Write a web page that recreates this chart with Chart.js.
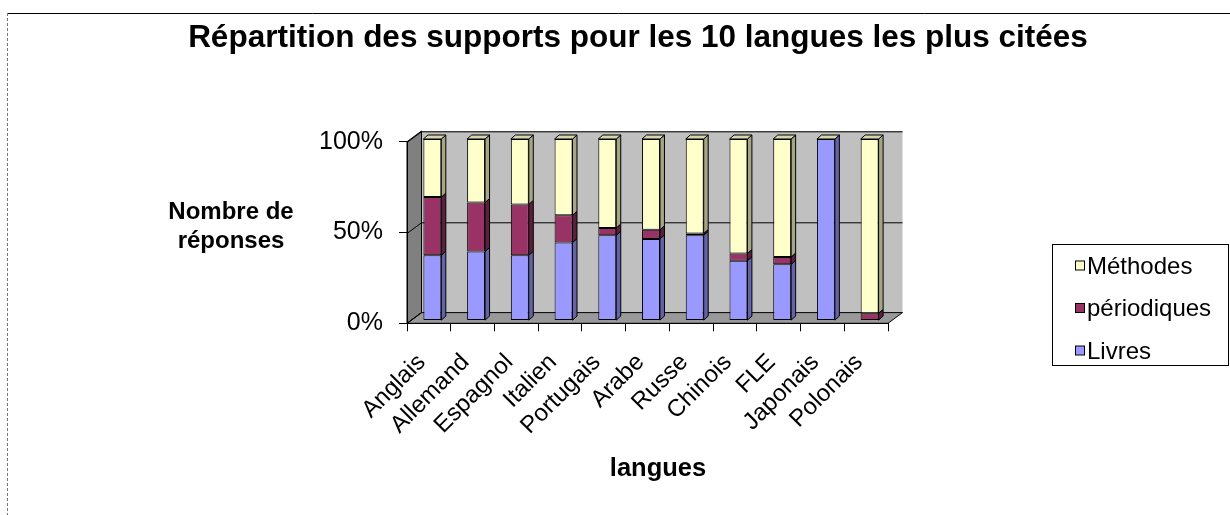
<!DOCTYPE html>
<html>
<head>
<meta charset="utf-8">
<script src="https://cdn.jsdelivr.net/npm/chart.js@4.4.1/dist/chart.umd.min.js"></script>
<style>
  html, body { margin: 0; padding: 0; background: #ffffff; }
  #wrap { width: 1230px; height: 515px; position: relative; }
</style>
</head>
<body>
<div id="wrap"><canvas id="c" width="1230" height="515"></canvas></div>
<script>
// ---- Data ----
const categories = ['Anglais', 'Allemand', 'Espagnol', 'Italien', 'Portugais', 'Arabe', 'Russe', 'Chinois', 'FLE', 'Japonais', 'Polonais'];
const livres      = [36, 38, 36, 43, 47, 45, 47, 33, 31, 100, 0];
const periodiques = [32, 27, 28, 15, 4, 5, 1, 4, 4, 0, 4];
const methodes    = [32, 35, 36, 42, 49, 50, 52, 63, 65, 0, 96];
const yTicks = [0, 50, 100];
const titleText = 'Répartition des supports pour les 10 langues les plus citées';
const yTitleLines = ['Nombre de', 'réponses'];
const xTitleText = 'langues';

const FONT = '"Liberation Sans", Arial, sans-serif';
// 3D depth of the walls and of the bars
const WDX = 14.5, WDY = -10.7;
const BAR_SHIFT_X = 3.5, BAR_SHIFT_Y = -2.7;
const BDX = 4.5, BDY = -4;

const faceColors = {
  Livres:      { front: '#9999ff', side: '#6363a8' },
  'périodiques': { front: '#993366', side: '#5c1f3d' },
  'Méthodes':  { front: '#ffffcc', side: '#a6a685', top: '#d6d6ad' }
};

const wallsPlugin = {
  id: 'walls',
  beforeDraw(chart) {
    const ctx = chart.ctx;
    const a = chart.chartArea;
    const ys = chart.scales.y;
    const L = a.left, R = a.right, T = a.top, B = a.bottom;
    ctx.save();
    // outer frame
    ctx.strokeStyle = '#000';
    ctx.lineWidth = 1;
    ctx.beginPath(); ctx.moveTo(7, 13.5); ctx.lineTo(1230, 13.5); ctx.stroke();
    ctx.strokeStyle = '#777';
    ctx.setLineDash([3, 2]);
    ctx.beginPath(); ctx.moveTo(7.5, 13); ctx.lineTo(7.5, 515); ctx.stroke();
    ctx.setLineDash([]);
    // back wall
    ctx.fillStyle = '#c0c0c0';
    ctx.fillRect(L + WDX, T + WDY, R - L, B - T);
    // left wall
    ctx.fillStyle = '#808080';
    ctx.beginPath();
    ctx.moveTo(L, T); ctx.lineTo(L + WDX, T + WDY); ctx.lineTo(L + WDX, B + WDY); ctx.lineTo(L, B); ctx.closePath();
    ctx.fill();
    ctx.strokeStyle = '#000'; ctx.stroke();
    // floor
    ctx.fillStyle = '#999999';
    ctx.beginPath();
    ctx.moveTo(L, B); ctx.lineTo(L + WDX, B + WDY); ctx.lineTo(R + WDX, B + WDY); ctx.lineTo(R, B); ctx.closePath();
    ctx.fill();
    ctx.strokeStyle = '#000'; ctx.stroke();
    // gridlines on back wall and left wall
    ctx.strokeStyle = '#000';
    yTicks.forEach(v => {
      const py = Math.round(ys.getPixelForValue(v)) + 0.5;
      ctx.beginPath();
      ctx.moveTo(L, py); ctx.lineTo(L + WDX, py + WDY);
      if (v !== 0) ctx.lineTo(R + WDX, py + WDY);
      ctx.stroke();
    });
    ctx.restore();
  },
  beforeDatasetsDraw(chart) {
    chart.ctx.save();
    chart.ctx.translate(BAR_SHIFT_X, BAR_SHIFT_Y);
  },
  afterDatasetsDraw(chart) {
    const ctx = chart.ctx;
    ctx.lineWidth = 1;
    ctx.strokeStyle = '#000';
    const n = chart.data.labels.length;
    const tops = new Array(n).fill(null);
    chart.data.datasets.forEach((ds, d) => {
      const meta = chart.getDatasetMeta(d);
      const cols = faceColors[ds.label];
      meta.data.forEach((el, i) => {
        const p = el.getProps(['x', 'y', 'base', 'width'], true);
        const top = Math.min(p.y, p.base), bot = Math.max(p.y, p.base);
        const left = p.x - p.width / 2, right = p.x + p.width / 2;
        if (tops[i] === null || top < tops[i].top) tops[i] = { top, left, right };
        if (bot - top < 0.5) return;
        ctx.fillStyle = cols.side;
        ctx.beginPath();
        ctx.moveTo(right, bot); ctx.lineTo(right + BDX, bot + BDY);
        ctx.lineTo(right + BDX, top + BDY); ctx.lineTo(right, top); ctx.closePath();
        ctx.fill(); ctx.stroke();
      });
    });
    tops.forEach(t => {
      if (!t) return;
      ctx.fillStyle = faceColors['Méthodes'].top;
      ctx.beginPath();
      ctx.moveTo(t.left, t.top); ctx.lineTo(t.left + BDX, t.top + BDY);
      ctx.lineTo(t.right + BDX, t.top + BDY); ctx.lineTo(t.right, t.top); ctx.closePath();
      ctx.fill(); ctx.stroke();
    });
    ctx.restore();
  },
  afterDraw(chart) {
    const ctx = chart.ctx;
    ctx.save();
    ctx.fillStyle = '#000';
    // title
    ctx.font = 'bold 31.5px ' + FONT;
    ctx.textAlign = 'center';
    ctx.textBaseline = 'alphabetic';
    ctx.fillText(titleText, 638, 47);
    // y title
    ctx.font = 'bold 24px ' + FONT;
    ctx.fillText(yTitleLines[0], 231, 219);
    ctx.fillText(yTitleLines[1], 231, 248);
    // x title
    ctx.font = 'bold 25.5px ' + FONT;
    ctx.fillText(xTitleText, 658, 476);
    // legend
    const lx = 1052.5, ly = 244.5, lw = 176, lh = 121;
    ctx.strokeStyle = '#000'; ctx.lineWidth = 1;
    ctx.strokeRect(lx, ly, lw, lh);
    ctx.font = '24px ' + FONT;
    ctx.textAlign = 'left';
    ctx.textBaseline = 'middle';
    const order = [2, 1, 0];
    order.forEach((d, k) => {
      const ds = chart.data.datasets[d];
      const cy = 266 + k * 42.5;
      ctx.fillStyle = ds.backgroundColor;
      ctx.fillRect(1075.5, cy - 5, 9, 9);
      ctx.strokeRect(1075.5, cy - 5, 9, 9);
      ctx.fillStyle = '#000';
      ctx.fillText(ds.label, 1087, cy + 1);
    });
    ctx.restore();
  }
};

new Chart(document.getElementById('c'), {
  type: 'bar',
  data: {
    labels: categories,
    datasets: [
      { label: 'Livres', data: livres, backgroundColor: faceColors.Livres.front },
      { label: 'périodiques', data: periodiques, backgroundColor: faceColors['périodiques'].front },
      { label: 'Méthodes', data: methodes, backgroundColor: faceColors['Méthodes'].front }
    ].map(ds => Object.assign(ds, {
      borderColor: '#000', borderWidth: 1, borderSkipped: false,
      barPercentage: 0.41, categoryPercentage: 1.0, clip: false
    }))
  },
  options: {
    responsive: false,
    animation: false,
    devicePixelRatio: 1,
    layout: { padding: { left: 0, top: 141.7, right: 342, bottom: 0 } },
    plugins: { legend: { display: false }, title: { display: false }, tooltip: { enabled: false } },
    scales: {
      x: {
        stacked: true,
        grid: { display: true, drawOnChartArea: false, drawTicks: true, tickLength: 8, color: '#000', offset: true },
        border: { display: true, color: '#000', width: 1 },
        ticks: { color: '#000', font: { family: FONT, size: 24 }, maxRotation: 45, minRotation: 45, padding: 17, labelOffset: -7, autoSkip: false },
        afterFit(s) { s.height = 515 - 323.3; }
      },
      y: {
        stacked: true,
        min: 0, max: 100,
        afterBuildTicks(s) { s.ticks = yTicks.map(v => ({ value: v })); },
        grid: { display: true, drawOnChartArea: false, drawTicks: true, tickLength: 8, color: '#000' },
        border: { display: true, color: '#000', width: 1 },
        ticks: { color: '#000', font: { family: FONT, size: 25 }, padding: 16, callback: v => v + '%' },
        afterFit(s) { s.width = 407; }
      }
    }
  },
  plugins: [wallsPlugin]
});
</script>
</body>
</html>
